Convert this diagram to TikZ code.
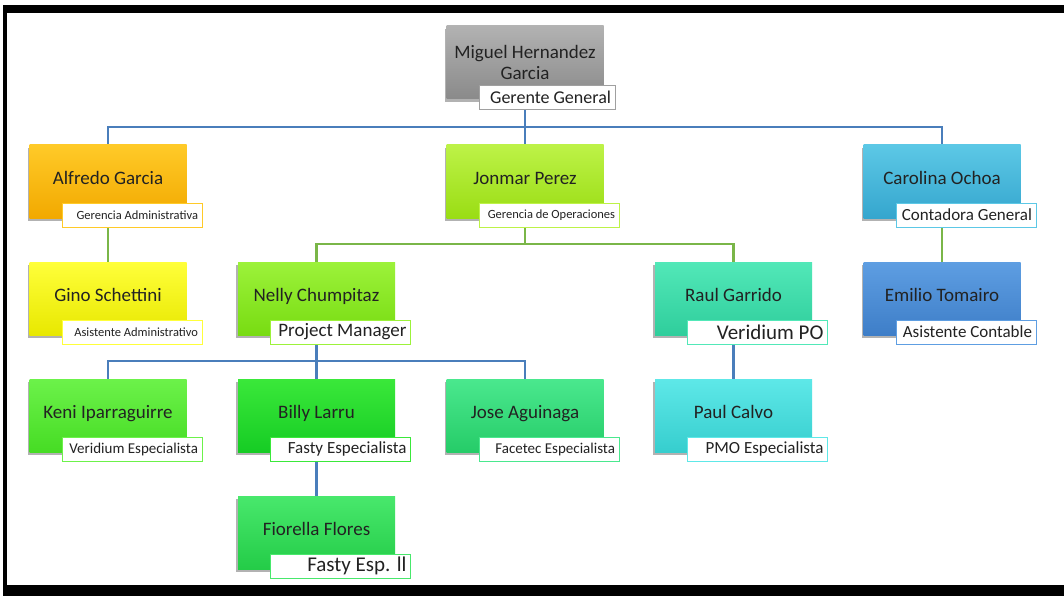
\documentclass[tikz,border=0pt]{standalone}
\usepackage{fontspec}
\setmainfont{Carlito}
\usetikzlibrary{shadows,backgrounds}
\definecolor{lineblue}{HTML}{4A7EBB}
\definecolor{linegreen}{HTML}{7AB648}
\definecolor{txt}{HTML}{222222}
\tikzset{
  pbox/.style={rectangle, minimum width=157pt, minimum height=73pt, inner sep=0pt,
    font=\fontsize{19}{21}\selectfont, text=txt,
    drop shadow={shadow xshift=-2pt, shadow yshift=-3pt, opacity=0.3, fill=black}},
  lbl/.style={rectangle, fill=white, line width=0.8pt, minimum height=24pt,
    inner xsep=4pt, inner ysep=0pt, text=txt},
  conn/.style={line width=2.5pt},
  bconn/.style={conn, draw=lineblue},
  gconn/.style={conn, draw=linegreen},
}
\newcommand\orgperson[8]{%
  \node[pbox, top color=#4, bottom color=#5] (#1) at (#2,#3) {\raisebox{7pt}{#6}};
  \node[lbl, draw=#4, font=\fontsize{#8}{#8}\selectfont] (#1-l) at (#2+24,#3+33.5) {\makebox[132pt][r]{#7}};
}
\begin{document}
\begin{tikzpicture}[x=1pt,y=-1pt]
\useasboundingbox (0,0) rectangle (1064,596);
\begin{scope}[on background layer]
  \fill[white] (0,0) rectangle (1064,596);
\end{scope}
% frame
\fill[black] (3,5) rectangle (1064,13);
\fill[black] (3,5) rectangle (7,596);
\fill[black] (3,585) rectangle (1064,596);

% top
\node[pbox, top color={rgb,255:red,178;green,178;blue,178}, bottom color={rgb,255:red,138;green,138;blue,138}, align=center] (miguel) at (525,62.5) {\raisebox{4pt}{\parbox{150pt}{\centering Miguel Hernandez\\Garcia}}};
\node[lbl, draw={rgb,255:red,160;green,160;blue,160}, font=\fontsize{18}{18}\selectfont] (miguel-l) at (547,97) {\makebox[128pt][r]{Gerente General}};

\definecolor{alfT}{HTML}{FFCA28}\definecolor{alfB}{HTML}{F2A900}
\definecolor{ginT}{HTML}{FFFF3A}\definecolor{ginB}{HTML}{E8E800}
\definecolor{jonT}{HTML}{BDF247}\definecolor{jonB}{HTML}{9ADD14}
\definecolor{carT}{HTML}{5CC8E6}\definecolor{carB}{HTML}{35A6CE}
\definecolor{nelT}{HTML}{9CF23A}\definecolor{nelB}{HTML}{78DC12}
\definecolor{rauT}{HTML}{52E8B8}\definecolor{rauB}{HTML}{2FCE9C}
\definecolor{emiT}{HTML}{5E9EE2}\definecolor{emiB}{HTML}{3E7EC8}
\definecolor{kenT}{HTML}{6CF24A}\definecolor{kenB}{HTML}{46DC24}
\definecolor{bilT}{HTML}{3AE83A}\definecolor{bilB}{HTML}{16CC24}
\definecolor{josT}{HTML}{4AE88E}\definecolor{josB}{HTML}{26CC68}
\definecolor{pauT}{HTML}{5EE8E8}\definecolor{pauB}{HTML}{36CECE}
\definecolor{fioT}{HTML}{48E86C}\definecolor{fioB}{HTML}{24CC48}

\orgperson{alfredo}{108}{181.5}{alfT}{alfB}{Alfredo Garcia}{Gerencia Administrativa}{12.5}
\orgperson{jonmar}{525}{181.5}{jonT}{jonB}{Jonmar Perez}{Gerencia de Operaciones}{12.5}
\orgperson{carolina}{942}{181.5}{carT}{carB}{Carolina Ochoa}{Contadora General}{17}
\orgperson{gino}{108}{298.5}{ginT}{ginB}{Gino Schettini}{Asistente Administrativo}{12.5}
\orgperson{nelly}{316.5}{298.5}{nelT}{nelB}{Nelly Chumpitaz}{Project Manager}{19}
\orgperson{raul}{733.5}{298.5}{rauT}{rauB}{Raul Garrido}{Veridium PO}{21}
\orgperson{emilio}{942}{298.5}{emiT}{emiB}{Emilio Tomairo}{Asistente Contable}{17}
\orgperson{keni}{108}{415.5}{kenT}{kenB}{Keni Iparraguirre}{Veridium Especialista}{15}
\orgperson{billy}{316.5}{415.5}{bilT}{bilB}{Billy Larru}{Fasty Especialista}{17}
\orgperson{jose}{525}{415.5}{josT}{josB}{Jose Aguinaga}{Facetec Especialista}{15}
\orgperson{paul}{733.5}{415.5}{pauT}{pauB}{Paul Calvo}{PMO Especialista}{17}
\orgperson{fiorella}{316.5}{532.5}{fioT}{fioB}{Fiorella Flores}{Fasty Esp. ll}{21}

\coordinate (bus1) at (525,127);
\coordinate (bus2) at (525,244);
\coordinate (bus3) at (316.5,361);
\begin{scope}[on background layer]
  \draw[bconn] (miguel.south) -- (bus1) -| (alfredo.north);
  \draw[bconn] (bus1) -| (carolina.north);
  \draw[bconn] (bus1) -- (jonmar.north);
  \draw[gconn] (alfredo.south) -- (gino.north);
  \draw[gconn] (carolina.south) -- (emilio.north);
  \draw[gconn] (jonmar.south) -- (bus2) -| (nelly.north);
  \draw[gconn] (bus2) -| (raul.north);
  \draw[bconn] (nelly.south) -- (bus3) -| (keni.north);
  \draw[bconn] (bus3) -| (jose.north);
  \draw[bconn] (bus3) -- (billy.north);
  \draw[bconn] (raul.south) -- (paul.north);
  \draw[bconn] (billy.south) -- (fiorella.north);
\end{scope}
\end{tikzpicture}
\end{document}
